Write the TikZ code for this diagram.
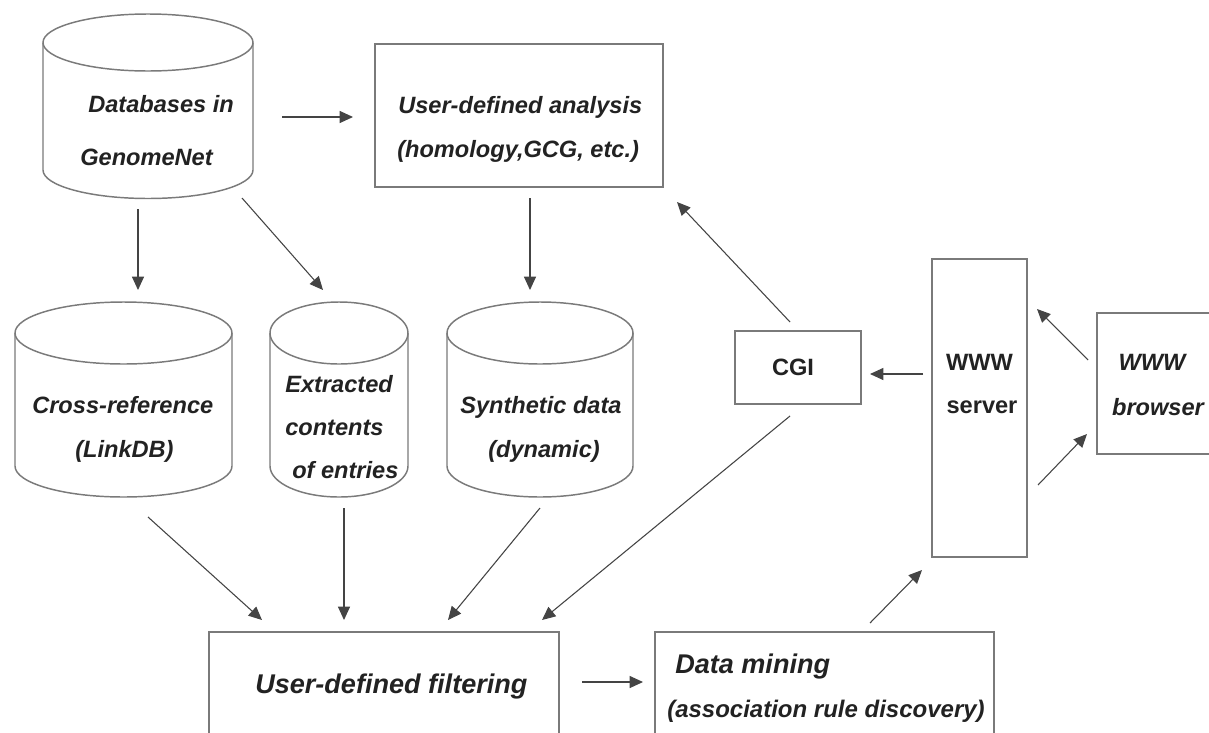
\documentclass[tikz,border=0pt]{standalone}
\usepackage{fontspec}
\setmainfont{Liberation Sans}
\usetikzlibrary{arrows.meta,fit}
\definecolor{edge}{HTML}{7A7A7A}
\definecolor{ink}{HTML}{222222}
\definecolor{arrowc}{HTML}{444444}
\tikzset{
  shapeline/.style={draw=edge, line width=1.1pt},
  boxnode/.style={shapeline, inner sep=0pt},
  arr/.style={draw=arrowc, line width=0.8pt, -{Triangle[length=10pt,width=9pt]}},
  lbl/.style={inner sep=0pt, text=ink, font=\fontsize{17.7}{20}\selectfont\bfseries\itshape},
  lblup/.style={inner sep=0pt, text=ink, font=\fontsize{17.7}{20}\selectfont\bfseries},
  lblbig/.style={inner sep=0pt, text=ink, font=\fontsize{20.3}{23}\selectfont\bfseries\itshape},
  lblmid/.style={inner sep=0pt, text=ink, font=\fontsize{18}{21}\selectfont\bfseries\itshape},
}
% cylinder: name, cx, y of top ellipse centre, y of bottom ellipse centre, rx, ry
\newcommand{\dbcyl}[6]{%
  \draw[shapeline] (#2-#5,#3) -- (#2-#5,#4) arc[start angle=180,end angle=0,x radius=#5,y radius=#6] -- (#2+#5,#3);
  \draw[shapeline] (#2,#3) ellipse[x radius=#5,y radius=#6];
  \path (#2-#5,#3-#6) coordinate (#1-a) (#2+#5,#4+#6) coordinate (#1-b);
  \node[fit=(#1-a)(#1-b), inner sep=0pt] (#1) {};
}
% box: name, x1, y1, x2, y2
\newcommand{\rectbox}[5]{%
  \path (#2,#3) coordinate (#1-a) (#4,#5) coordinate (#1-b);
  \node[boxnode, fit=(#1-a)(#1-b)] (#1) {};
}
\begin{document}
\begin{tikzpicture}[x=0.75pt,y=-0.75pt]
\useasboundingbox[fill=white] (0,0) rectangle (1209,732);

% cylinders
\dbcyl{db}{148}{42.5}{170}{105}{28.5}
\dbcyl{xref}{123.5}{333}{466}{108.5}{31}
\dbcyl{extr}{339}{333}{466}{69}{31}
\dbcyl{synt}{540}{333}{466}{93}{31}

% boxes
\rectbox{ana}{375}{44}{663}{187}
\rectbox{cgi}{735}{331}{861}{404}
\rectbox{srv}{932}{259}{1027}{557}
\rectbox{brw}{1097}{313}{1215}{454}
\rectbox{filt}{209}{632}{559}{745}
\rectbox{mine}{655}{632}{994}{745}

% texts
\node[lbl, anchor=base west] (tdb1) at (88,112) {Databases in};
\node[lbl, anchor=base west] (tdb2) at (80,165) {GenomeNet};
\node[lbl, anchor=base west] (tana1) at (398,113) {User-defined analysis};
\node[lbl, anchor=base west] (tana2) at (397,157) {(homology,GCG, etc.)};
\node[lbl, anchor=base west] (txr1) at (32,413) {Cross-reference};
\node[lbl, anchor=base west] (txr2) at (75,457) {(LinkDB)};
\node[lbl, anchor=base west] (tex1) at (285,392) {Extracted};
\node[lbl, anchor=base west] (tex2) at (285,435) {contents};
\node[lbl, anchor=base west] (tex3) at (292,478) {of entries};
\node[lbl, anchor=base west] (tsy1) at (460,413) {Synthetic data};
\node[lbl, anchor=base west] (tsy2) at (488,457) {(dynamic)};
\node[lblup, anchor=base] (tcgi) at (793,375) {CGI};
\node[lblup, anchor=base] (tsrv1) at (979.5,370) {WWW};
\node[lblup, anchor=base] (tsrv2) at (982,413) {server};
\node[lbl, anchor=base] (tbrw1) at (1152,370) {WWW};
\node[lbl, anchor=base] (tbrw2) at (1158,415) {browser};
\node[lblbig, anchor=base west] (tfilt) at (255,693) {User-defined filtering};
\node[lblbig, anchor=base west] (tmine1) at (675,673) {Data mining};
\node[lblmid, anchor=base west] (tmine2) at (667,717) {(association rule discovery)};

% connectors
\draw[arr] (282,117) -- (353,117);
\draw[arr] (138,209) -- (138,290);
\draw[arr] (242,198) -- (323,290);
\draw[arr] (530,198) -- (530,290);
\draw[arr] (790,322) -- (677,202);
\draw[arr] (923,374) -- (870,374);
\draw[arr] (1088,360) -- (1037,309);
\draw[arr] (1038,485) -- (1087,434);
\draw[arr] (148,517) -- (262,620);
\draw[arr] (344,508) -- (344,620);
\draw[arr] (540,508) -- (448,620);
\draw[arr] (790,416) -- (542,620);
\draw[arr] (582,682) -- (643,682);
\draw[arr] (870,623) -- (922,570);
\end{tikzpicture}
\end{document}
